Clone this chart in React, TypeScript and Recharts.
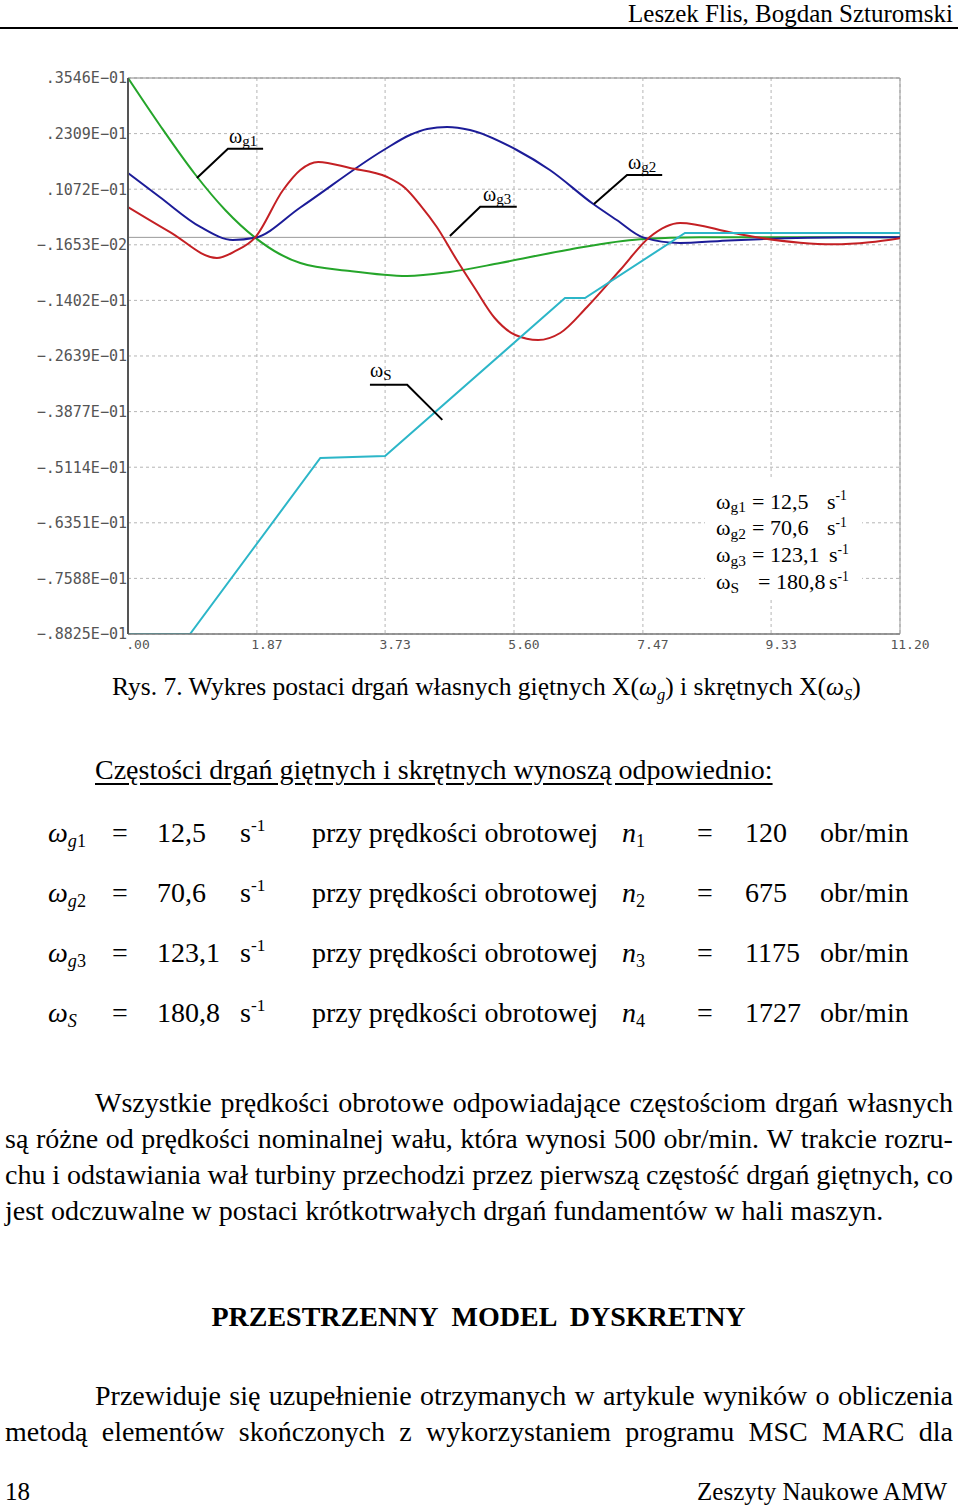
import React from "react";
import { LineChart, Line, XAxis, YAxis, CartesianGrid, ReferenceLine } from "recharts";

// axis ticks as printed by the original plotter
const xTicks = [0, 1.87, 3.73, 5.6, 7.47, 9.33, 11.2];
const xTickLabels = [".00", "1.87", "3.73", "5.60", "7.47", "9.33", "11.20"];
const yTicks = [0.03546, 0.02309, 0.01072, -0.001653, -0.01402, -0.02639, -0.03877, -0.05114, -0.06351, -0.07588, -0.08825];
const yTickLabels = [
  ".3546E\u221201", ".2309E\u221201", ".1072E\u221201", "\u2212.1653E\u221202", "\u2212.1402E\u221201",
  "\u2212.2639E\u221201", "\u2212.3877E\u221201", "\u2212.5114E\u221201", "\u2212.6351E\u221201",
  "\u2212.7588E\u221201", "\u2212.8825E\u221201",
];

// mode shapes
const g1X = [0, 0.46, 0.97, 1.41, 1.84, 2.2, 2.5, 3.22, 4.05, 4.67, 5.4, 6.37, 7.43, 8.3, 9.5, 11.2];
const g1Y = [0.03546, 0.025, 0.0141, 0.0061, 0.0, -0.0037, -0.0057, -0.0075, -0.0086, -0.0077, -0.0057, -0.0028, -0.0004, 0.0, 0.0, 0.0];

const g2X = [0, 0.46, 1.05, 1.52, 1.84, 2.5, 3.71, 4.09, 4.34, 4.63, 4.96, 5.64, 6.12, 6.75, 7.09, 7.47, 8.01, 8.59, 9.17, 10.47, 11.2];
const g2Y = [0.01432, 0.00898, 0.00231, -0.00058, -0.0001, 0.00665, 0.01944, 0.02278, 0.02411, 0.02456, 0.02389, 0.01944, 0.01499, 0.00742, 0.00386, 0.0, -0.00125, -0.0008, -0.0004, 0.0, 0.0];

const g3X = [0, 0.61, 1.29, 1.56, 1.84, 2.25, 2.5, 2.76, 3.22, 3.76, 4.02, 4.24, 4.48, 4.77, 5.03, 5.32, 5.62, 5.95, 6.27, 6.66, 7.14, 7.57, 8.01, 8.78, 9.17, 9.75, 10.23, 10.76, 11.2];
const g3Y = [0.00676, 0.00119, -0.00459, -0.00303, -0.0001, 0.01054, 0.01499, 0.01677, 0.01543, 0.01343, 0.01099, 0.0072, 0.00231, -0.00504, -0.01127, -0.01794, -0.02172, -0.02284, -0.02128, -0.01549, -0.00726, 0.0001, 0.0032, 0.00098, -0.0001, -0.0012, -0.00155, -0.0011, -0.0002];

const sX = [0, 0.9, 2.79, 3.73, 6.34, 6.63, 8.08, 11.2];
const sY = [-0.08825, -0.08825, -0.04909, -0.04864, -0.01349, -0.01349, 0.00097, 0.00097];

// leader lines of the curve labels
const leadG1X = [1.0, 1.45, 1.96];
const leadG1Y = [0.0132, 0.0197, 0.0197];
const leadG3X = [4.67, 5.11, 5.64];
const leadG3Y = [0.0003, 0.0068, 0.0068];
const leadG2X = [6.76, 7.24, 7.75];
const leadG2Y = [0.0074, 0.0139, 0.0139];
const leadSX = [3.51, 4.05, 4.56];
const leadSY = [-0.0328, -0.0328, -0.0406];

const zip = (xs: number[], ys: number[]) => xs.map((x, i) => ({ x, y: ys[i] }));

// table under the figure
const rowSubs = ["g1", "g2", "g3", "S"];
const rowFreqs = ["12,5", "70,6", "123,1", "180,8"];
const rowN = ["1", "2", "3", "4"];
const rowRpm = ["120", "675", "1175", "1727"];

const F = '"Liberation Serif", "Times New Roman", serif';

const Sub = ({ children, s = 0.65, t = 0.3 }: any) => (
  <span style={{ fontSize: `${s}em`, position: "relative", top: `${t}em` }}>{children}</span>
);
const Sup = ({ children }: any) => (
  <span style={{ fontSize: "0.62em", position: "relative", top: "-0.6em" }}>{children}</span>
);

function Txt({ x, r, b, size = 28, children, style }: any) {
  return (
    <div
      style={{
        position: "absolute",
        left: x,
        right: r,
        top: b - 0.8375 * size,
        fontSize: size,
        lineHeight: `${size}px`,
        fontFamily: F,
        whiteSpace: "pre",
        color: "#000",
        ...style,
      }}
    >
      {children}
    </div>
  );
}

function Justified({ x, w, b, text, size = 28 }: any) {
  return (
    <div
      style={{
        position: "absolute",
        left: x,
        width: w,
        top: b - 0.8375 * size,
        fontSize: size,
        lineHeight: `${size}px`,
        fontFamily: F,
        display: "flex",
        justifyContent: "space-between",
        whiteSpace: "pre",
      }}
    >
      {text.split(" ").map((t: string, i: number) => (
        <span key={i}>{t}</span>
      ))}
    </div>
  );
}

export default function App() {
  const axisFont = { fontFamily: '"DejaVu Sans Mono", monospace', fill: "#555" };
  return (
    <div style={{ position: "absolute", left: 0, top: 0, width: 960, height: 1511, background: "#fff", overflow: "hidden" }}>
      <Txt r={7} b={22} size={25}>Leszek Flis, Bogdan Szturomski</Txt>
      <div style={{ position: "absolute", left: 0, top: 27, width: 958, height: 2, background: "#000" }} />

      <div style={{ position: "absolute", left: 0, top: 0 }}>
        <LineChart width={960} height={660} margin={{ top: 78, right: 60, bottom: 0, left: 0 }}>
          <CartesianGrid stroke="#b5b5b5" strokeDasharray="3 3" />
          <XAxis
            dataKey="x"
            type="number"
            domain={[0, 11.2]}
            ticks={xTicks}
            allowDataOverflow
            height={26}
            tickSize={0}
            tickMargin={6}
            axisLine={{ stroke: "#777", strokeWidth: 1.5 }}
            tick={{ ...axisFont, fontSize: 13, dx: 10 }}
            tickFormatter={(v: number) => xTickLabels[xTicks.indexOf(v)]}
          />
          <YAxis
            dataKey="y"
            type="number"
            domain={[-0.08825, 0.03546]}
            ticks={yTicks}
            allowDataOverflow
            width={128}
            tickSize={0}
            tickMargin={1}
            axisLine={{ stroke: "#555", strokeWidth: 2 }}
            tick={{ ...axisFont, fontSize: 15 }}
            tickFormatter={(v: number) => yTickLabels[yTicks.indexOf(v)]}
          />
          <ReferenceLine y={0.03546} stroke="#888" strokeWidth={1} />
          <ReferenceLine x={11.2} stroke="#999" strokeWidth={1} />
          <ReferenceLine y={0} stroke="#999" strokeWidth={1} />
          <Line data={zip(g1X, g1Y)} dataKey="y" type="monotone" stroke="#25a52a" strokeWidth={2} dot={false} isAnimationActive={false} />
          <Line data={zip(g2X, g2Y)} dataKey="y" type="monotone" stroke="#1c1c98" strokeWidth={2} dot={false} isAnimationActive={false} />
          <Line data={zip(g3X, g3Y)} dataKey="y" type="monotone" stroke="#c42024" strokeWidth={2} dot={false} isAnimationActive={false} />
          <Line data={zip(sX, sY)} dataKey="y" type="linear" stroke="#2cb6c8" strokeWidth={2} dot={false} isAnimationActive={false} />
          <Line data={zip(leadG1X, leadG1Y)} dataKey="y" type="linear" stroke="#000" strokeWidth={2} dot={false} isAnimationActive={false} />
          <Line data={zip(leadG3X, leadG3Y)} dataKey="y" type="linear" stroke="#000" strokeWidth={2} dot={false} isAnimationActive={false} />
          <Line data={zip(leadG2X, leadG2Y)} dataKey="y" type="linear" stroke="#000" strokeWidth={2} dot={false} isAnimationActive={false} />
          <Line data={zip(leadSX, leadSY)} dataKey="y" type="linear" stroke="#000" strokeWidth={2} dot={false} isAnimationActive={false} />
        </LineChart>
      </div>

      {/* curve labels */}
      <Txt x={229} b={143} size={20}>ω<Sub s={0.75} t={0.2}>g1</Sub></Txt>
      <Txt x={483} b={201} size={20}>ω<Sub s={0.75} t={0.2}>g3</Sub></Txt>
      <Txt x={628} b={169} size={20}>ω<Sub s={0.75} t={0.2}>g2</Sub></Txt>
      <Txt x={370} b={377} size={20}>ω<Sub s={0.75} t={0.15}>S</Sub></Txt>

      {/* frequency box */}
      <div style={{ position: "absolute", left: 705, top: 478, width: 157, height: 122, background: "#fff" }} />
      {rowSubs.map((s, i) => (
        <React.Fragment key={s}>
          <Txt x={716} b={509 + i * 26.7} size={22}>ω<Sub s={0.7} t={0.25}>{s}</Sub></Txt>
          <Txt x={i === 3 ? 758 : 752} b={509 + i * 26.7} size={22}>{"= " + rowFreqs[i]}</Txt>
          <Txt x={i >= 2 ? 829 : 827} b={509 + i * 26.7} size={22}>s<Sup>-1</Sup></Txt>
        </React.Fragment>
      ))}

      <Txt x={112} b={695} size={25.5}>
        Rys. 7. Wykres postaci drgań własnych giętnych X(<i>ω<Sub>g</Sub></i>) i skrętnych X(<i>ω<Sub>S</Sub></i>)
      </Txt>

      <Txt x={95} b={779} style={{ textDecoration: "underline", textUnderlineOffset: 4 }}>
        Częstości drgań giętnych i skrętnych wynoszą odpowiednio:
      </Txt>

      {rowSubs.map((s, i) => {
        const b = 842 + i * 60;
        return (
          <React.Fragment key={"r" + s}>
            <Txt x={48} b={b}><i>ω</i><Sub><i>{s[0]}</i>{s.slice(1)}</Sub></Txt>
            <Txt x={112} b={b}>=</Txt>
            <Txt x={157} b={b}>{rowFreqs[i]}</Txt>
            <Txt x={240} b={b}>s<Sup>-1</Sup></Txt>
            <Txt x={312} b={b}>przy prędkości obrotowej</Txt>
            <Txt x={622} b={b}><i>n</i><Sub>{rowN[i]}</Sub></Txt>
            <Txt x={697} b={b}>=</Txt>
            <Txt x={745} b={b}>{rowRpm[i]}</Txt>
            <Txt x={820} b={b}>obr/min</Txt>
          </React.Fragment>
        );
      })}

      <Justified x={95} w={858} b={1112} text="Wszystkie prędkości obrotowe odpowiadające częstościom drgań własnych" />
      <Justified x={5} w={948} b={1148} text="są różne od prędkości nominalnej wału, która wynosi 500 obr/min. W trakcie rozru-" />
      <Justified x={5} w={948} b={1184} text="chu i odstawiania wał turbiny przechodzi przez pierwszą częstość drgań giętnych, co" />
      <Txt x={5} b={1220}>jest odczuwalne w postaci krótkotrwałych drgań fundamentów w hali maszyn.</Txt>

      <Txt x={0} b={1326} style={{ width: 957, textAlign: "center", fontWeight: "bold" }}>
        {"PRZESTRZENNY  MODEL  DYSKRETNY"}
      </Txt>

      <Justified x={95} w={858} b={1405} text="Przewiduje się uzupełnienie otrzymanych w artykule wyników o obliczenia" />
      <Justified x={5} w={948} b={1441} text="metodą elementów skończonych z wykorzystaniem programu MSC MARC dla" />

      <Txt x={5} b={1500} size={25}>18</Txt>
      <Txt r={13} b={1500} size={25}>Zeszyty Naukowe AMW</Txt>
    </div>
  );
}
